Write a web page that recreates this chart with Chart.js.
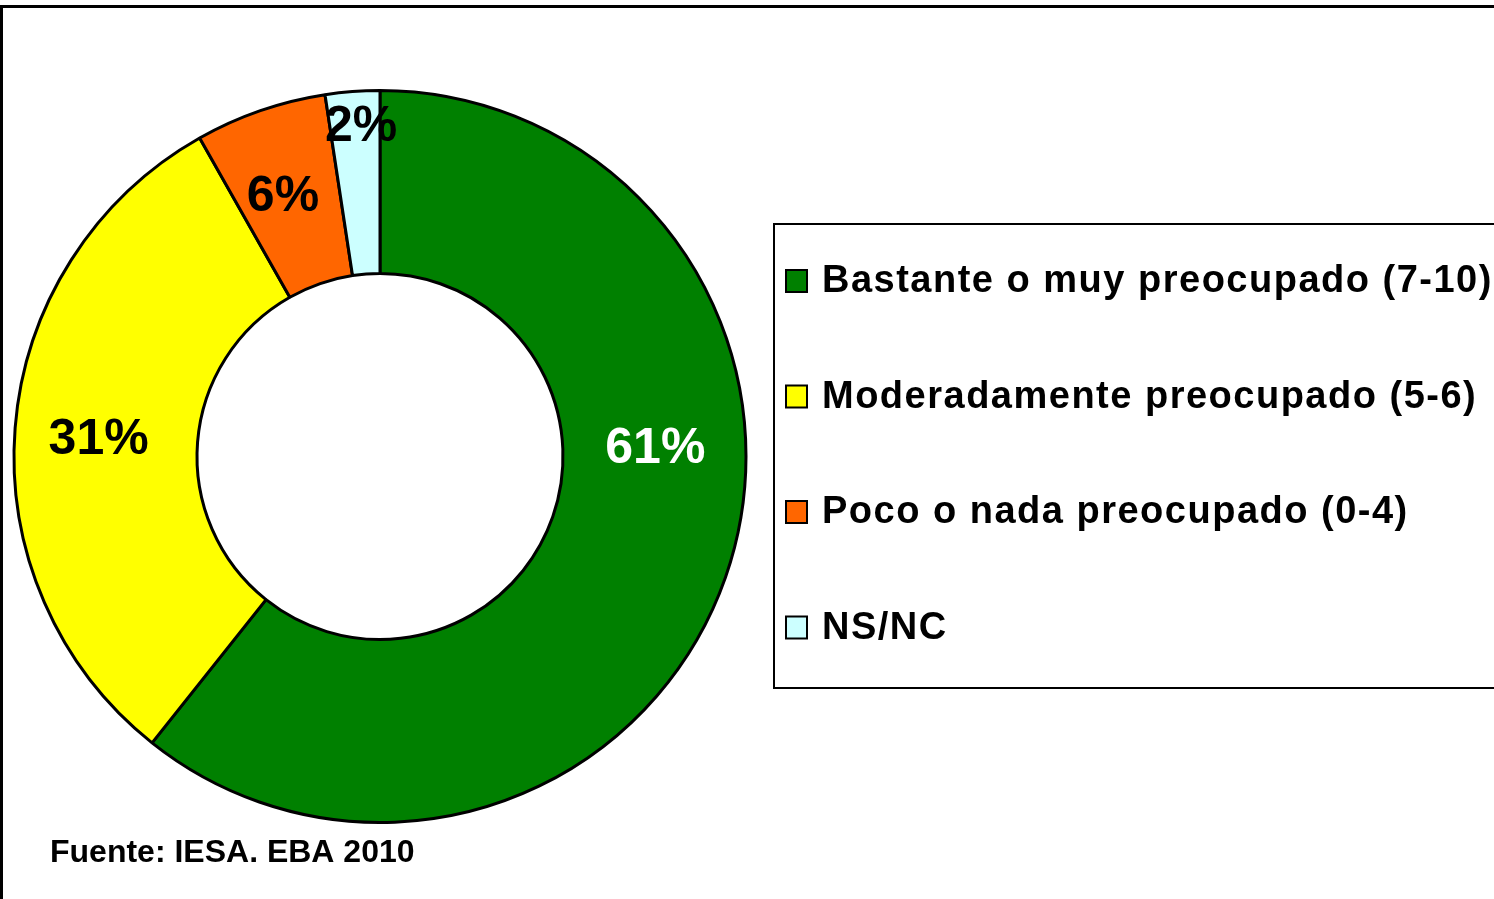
<!DOCTYPE html>
<html>
<head>
<meta charset="utf-8">
<script src="https://cdn.jsdelivr.net/npm/chart.js@4.4.1/dist/chart.umd.min.js"></script>
<style>
  html, body { margin: 0; padding: 0; background: #fff; }
  #wrap { width: 1494px; height: 899px; }
</style>
</head>
<body>
<div id="wrap"><canvas id="concernChart" width="1494" height="899"></canvas></div>
<script>
// Data
const categories = [
    'Bastante o muy preocupado (7-10)',
    'Moderadamente preocupado (5-6)',
    'Poco o nada preocupado (0-4)',
    'NS/NC'
];
const shares = [60.7, 31.1, 5.8, 2.4];
const sourceNote = 'Fuente: IESA. EBA 2010';

// Styles
const sliceColors = ['#008000', '#FFFF00', '#FF6600', '#CCFFFF'];
const labelColors = ['#FFFFFF', '#000000', '#000000', '#000000'];
// where each % label sits: angle (deg, clockwise from top) and fraction across the ring
const labelSpots = [
    { angle: 88.5, f: 0.505 },
    { angle: 273.3, f: 0.54 },
    { angle: 339.5, f: 0.514 },
    { angle: 356.7, f: 0.80 }
];
const FONT = "'Liberation Sans', Arial, sans-serif";

const decorPlugin = {
    id: 'decor',
    afterDraw(chart) {
        const ctx = chart.ctx;
        const W = chart.width;
        ctx.save();

        // outer frame (right/bottom run off the picture)
        ctx.strokeStyle = '#000';
        ctx.lineWidth = 3;
        ctx.strokeRect(1.5, 6.5, W + 10, 1000);

        // percentage labels on the ring
        const meta = chart.getDatasetMeta(0);
        ctx.font = `bold 50px ${FONT}`;
        ctx.textAlign = 'center';
        ctx.textBaseline = 'middle';
        meta.data.forEach((arc, i) => {
            const spot = labelSpots[i];
            const r = arc.innerRadius + spot.f * (arc.outerRadius - arc.innerRadius);
            const a = spot.angle * Math.PI / 180;
            const x = arc.x + r * Math.sin(a);
            const y = arc.y - r * Math.cos(a);
            ctx.fillStyle = labelColors[i];
            ctx.fillText(Math.round(shares[i]) + '%', x, y);
        });

        // legend box
        ctx.lineWidth = 2;
        ctx.strokeRect(774, 224, W, 464);
        ctx.font = `bold 38px ${FONT}`;
        ctx.textAlign = 'left';
        ctx.letterSpacing = '1.5px';
        categories.forEach((label, i) => {
            const cy = 281 + i * 115.5;
            ctx.fillStyle = sliceColors[i];
            ctx.fillRect(786, cy - 11, 21, 22);
            ctx.lineWidth = 2;
            ctx.strokeStyle = '#000';
            ctx.strokeRect(786, cy - 11, 21, 22);
            ctx.fillStyle = '#000';
            ctx.fillText(label, 822, cy + 1);
        });
        ctx.letterSpacing = '0px';

        // source note
        ctx.font = `bold 32px ${FONT}`;
        ctx.fillText(sourceNote, 50, 853);
        ctx.restore();
    }
};

new Chart(document.getElementById('concernChart'), {
    type: 'doughnut',
    data: {
        labels: categories,
        datasets: [{
            data: shares,
            backgroundColor: sliceColors,
            borderColor: '#000',
            borderWidth: 3
        }]
    },
    options: {
        responsive: false,
        animation: false,
        cutout: '50%',
        layout: {
            padding: { left: 12, right: 746, top: 89, bottom: 75 }
        },
        plugins: {
            legend: { display: false },
            tooltip: { enabled: false }
        }
    },
    plugins: [decorPlugin]
});
</script>
</body>
</html>
